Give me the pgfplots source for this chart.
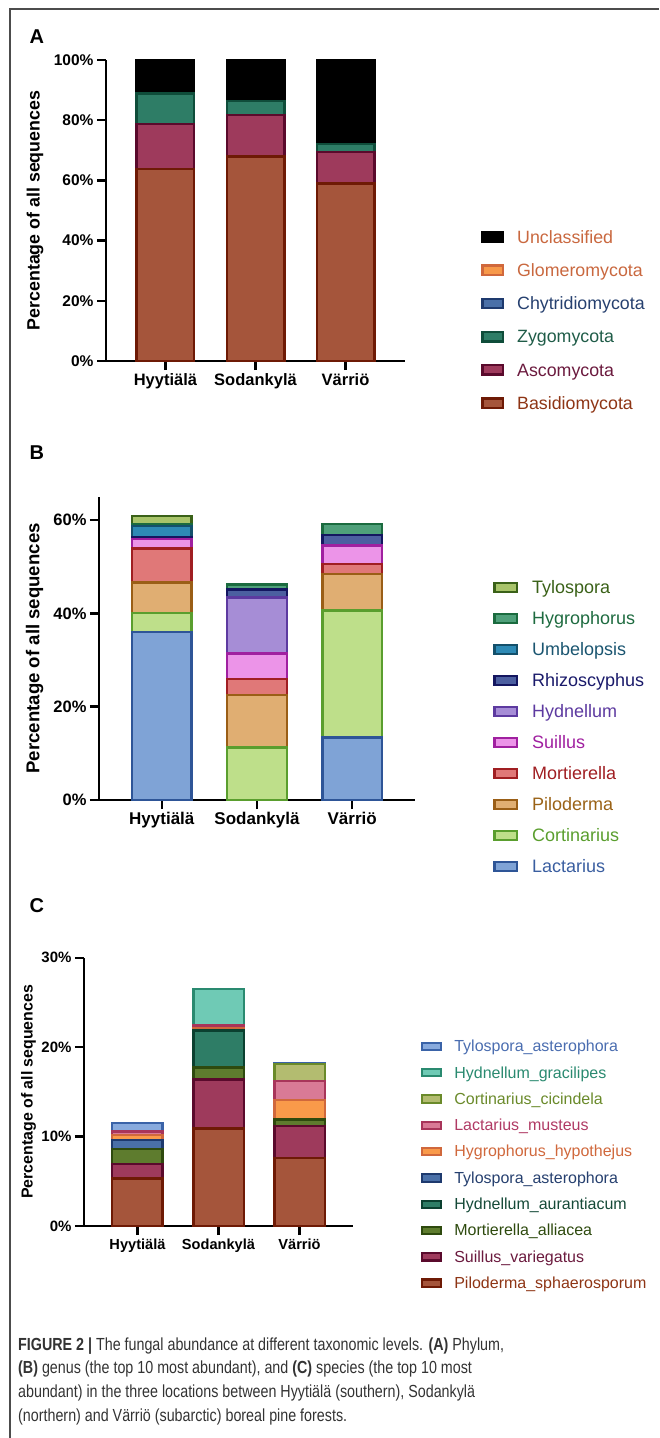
\documentclass[border=0pt]{standalone}
\usepackage{pgfplots}
\pgfplotsset{compat=1.18}
\usepackage{fontspec}
\setmainfont{Liberation Sans}
\newfontfamily\capfont[FakeStretch=0.817]{Liberation Sans}

% Panel A
\definecolor{basF}{HTML}{A5553B}\definecolor{basD}{HTML}{6E1A05}\definecolor{basT}{HTML}{8E3515}
\definecolor{ascF}{HTML}{9E3A5C}\definecolor{ascD}{HTML}{5A0A2C}\definecolor{ascT}{HTML}{6B1A3E}
\definecolor{zygF}{HTML}{2E7D66}\definecolor{zygD}{HTML}{0F4D3A}\definecolor{zygT}{HTML}{1F5C48}
\definecolor{chyF}{HTML}{4A70A8}\definecolor{chyD}{HTML}{1E3A6E}\definecolor{chyT}{HTML}{26406F}
\definecolor{gloF}{HTML}{F7994A}\definecolor{gloD}{HTML}{D0683C}\definecolor{gloT}{HTML}{C9683F}
% Panel B
\definecolor{lacF}{HTML}{7FA3D6}\definecolor{lacD}{HTML}{2E5597}\definecolor{lacT}{HTML}{3A5EA0}
\definecolor{corF}{HTML}{BEDF8A}\definecolor{corD}{HTML}{5A9E2E}\definecolor{corT}{HTML}{5A9E2E}
\definecolor{pilF}{HTML}{E0AE72}\definecolor{pilD}{HTML}{9A5E16}\definecolor{pilT}{HTML}{9A6216}
\definecolor{morF}{HTML}{E07878}\definecolor{morD}{HTML}{A01E22}\definecolor{morT}{HTML}{A01E22}
\definecolor{suiF}{HTML}{EC94E8}\definecolor{suiD}{HTML}{A020A0}\definecolor{suiT}{HTML}{A020A0}
\definecolor{hydF}{HTML}{A68DD6}\definecolor{hydD}{HTML}{5D3AA0}\definecolor{hydT}{HTML}{5D3AA0}
\definecolor{rhiF}{HTML}{4C5FA0}\definecolor{rhiD}{HTML}{141660}\definecolor{rhiT}{HTML}{1A1A6A}
\definecolor{umbF}{HTML}{2E8AB5}\definecolor{umbD}{HTML}{14506B}\definecolor{umbT}{HTML}{1A5570}
\definecolor{hygF}{HTML}{4FA07A}\definecolor{hygD}{HTML}{1B6B3F}\definecolor{hygT}{HTML}{1E6B40}
\definecolor{tylF}{HTML}{A8C46A}\definecolor{tylD}{HTML}{3A6118}\definecolor{tylT}{HTML}{3A6118}
% Panel C
\definecolor{maF}{HTML}{5E7C2E}\definecolor{maD}{HTML}{2E4A0E}\definecolor{maT}{HTML}{2E4A0E}
\definecolor{haF}{HTML}{2E7D66}\definecolor{haD}{HTML}{0B4030}\definecolor{haT}{HTML}{154A38}
\definecolor{hhF}{HTML}{F99A4A}\definecolor{hhD}{HTML}{D0683C}\definecolor{hhT}{HTML}{D0683C}
\definecolor{lmF}{HTML}{D97A96}\definecolor{lmD}{HTML}{A8355A}\definecolor{lmT}{HTML}{B03A64}
\definecolor{ccF}{HTML}{B3BC70}\definecolor{ccD}{HTML}{6A8A2A}\definecolor{ccT}{HTML}{6A8A2A}
\definecolor{hgF}{HTML}{6FCAB5}\definecolor{hgD}{HTML}{2A8A70}\definecolor{hgT}{HTML}{2A8A70}
\definecolor{tlF}{HTML}{88AADD}\definecolor{tlD}{HTML}{3A63A8}\definecolor{tlT}{HTML}{4A6DB0}
\definecolor{capC}{HTML}{333333}

\pgfplotsset{
  panel/.style={scale only axis, axis x line=bottom, axis y line=left,
    axis line style={-, line width=2.4pt, black}, tick style={line width=2.4pt, black},
    major tick length=9pt, tick align=outside,
    xtick={0,1,2}, xticklabels={Hyytiälä,Sodankylä,Värriö},
    xmin=-0.66, xmax=2.66, ymin=0, clip=false,
    legend cell align=left,
    legend image code/.code={\draw[##1, line width=2.4pt] (1.2pt,-3pt) rectangle (21.8pt,6.3pt);},
    legend style={draw=none, fill=none, inner sep=0pt, anchor=north west,
      nodes={inner sep=0pt, text height=13pt, text depth=4pt}},
  },
  seg/.style 2 args={ybar, bar shift=0pt, fill=#1, draw=#2, line width=2.5pt},
}

\begin{document}
\begin{tikzpicture}
\path[use as bounding box] (0pt,0pt) rectangle (659pt,-1438pt);
\draw[line width=1.5pt, black!70] (10pt,-1438pt) -- (10pt,-9pt) -- (659pt,-9pt);

\node[anchor=base west, font=\bfseries\fontsize{20}{20}\selectfont] at (26pt,-43pt) {A};
\node[anchor=base west, font=\bfseries\fontsize{20}{20}\selectfont] at (26pt,-459pt) {B};
\node[anchor=base west, font=\bfseries\fontsize{20}{20}\selectfont] at (26pt,-912pt) {C};

% ---------------- Panel A ----------------
\begin{axis}[panel, at={(106pt,-361pt)}, anchor=south west,
  width=299pt, height=301pt, ymax=100, bar width=57.5pt,
  ytick={0,20,40,60,80,100}, yticklabels={0\%,20\%,40\%,60\%,80\%,100\%},
  xticklabel style={font=\bfseries\fontsize{16.5}{18}\selectfont},
  yticklabel style={font=\bfseries\fontsize{15.5}{18}\selectfont},
  ylabel={Percentage of all sequences},
  ylabel style={font=\bfseries\fontsize{17.8}{20}\selectfont, at={(axis description cs:-0.2375,0.5)}, anchor=center},
  legend style={at={(axis description cs:1.254,0.435)}, row sep=16.2pt,
    font=\fontsize{17.8}{20}\selectfont,
    /tikz/every odd column/.append style={column sep=13pt}},
]
\addplot[seg={black}{black}] coordinates {(0,100) (1,100) (2,100)};
\addlegendentry{\textcolor{gloT}{Unclassified}}
\addplot[seg={gloF}{gloD}] coordinates {(0,88.9)};
\addlegendentry{\textcolor{gloT}{Glomeromycota}}
\addplot[seg={chyF}{chyD}] coordinates {(0,88.9)};
\addlegendentry{\textcolor{chyT}{Chytridiomycota}}
\addplot[seg={zygF}{zygD}] coordinates {(0,88.9) (1,86.3) (2,72.1)};
\addlegendentry{\textcolor{zygT}{Zygomycota}}
\addplot[seg={ascF}{ascD}] coordinates {(0,78.7) (1,81.7) (2,69.5)};
\addlegendentry{\textcolor{ascT}{Ascomycota}}
\addplot[seg={basF}{basD}] coordinates {(0,63.8) (1,67.9) (2,58.9)};
\addlegendentry{\textcolor{basT}{Basidiomycota}}
\end{axis}

% ---------------- Panel B ----------------
\begin{axis}[panel, at={(99pt,-800pt)}, anchor=south west,
  width=316pt, height=303.3pt, ymax=65, bar width=59.5pt,
  ytick={0,20,40,60}, yticklabels={0\%,20\%,40\%,60\%},
  xticklabel style={font=\bfseries\fontsize{17}{18}\selectfont},
  yticklabel style={font=\bfseries\fontsize{16.5}{18}\selectfont},
  ylabel={Percentage of all sequences},
  ylabel style={font=\bfseries\fontsize{18.6}{20}\selectfont, at={(axis description cs:-0.204,0.5)}, anchor=center},
  legend style={at={(axis description cs:1.2468,0.7237)}, row sep=14pt,
    font=\fontsize{18}{20}\selectfont,
    /tikz/every odd column/.append style={column sep=14pt}},
  legend image code/.code={\draw[#1, line width=2.4pt] (1.2pt,-3pt) rectangle (23.8pt,6.3pt);},
]
\addplot[seg={tylF}{tylD}] coordinates {(0,60.9)};
\addlegendentry{\textcolor{tylT}{Tylospora}}
\addplot[seg={hygF}{hygD}] coordinates {(0,59.2) (1,46.2) (2,59.2)};
\addlegendentry{\textcolor{hygT}{Hygrophorus}}
\addplot[seg={umbF}{umbD}] coordinates {(0,58.7)};
\addlegendentry{\textcolor{umbT}{Umbelopsis}}
\addplot[seg={rhiF}{rhiD}] coordinates {(0,56.3) (1,45.1) (2,56.8)};
\addlegendentry{\textcolor{rhiT}{Rhizoscyphus}}
\addplot[seg={hydF}{hydD}] coordinates {(1,43.4)};
\addlegendentry{\textcolor{hydT}{Hydnellum}}
\addplot[seg={suiF}{suiD}] coordinates {(0,55.9) (1,31.4) (2,54.5)};
\addlegendentry{\textcolor{suiT}{Suillus}}
\addplot[seg={morF}{morD}] coordinates {(0,53.9) (1,25.9) (2,50.6)};
\addlegendentry{\textcolor{morT}{Mortierella}}
\addplot[seg={pilF}{pilD}] coordinates {(0,46.6) (1,22.5) (2,48.4)};
\addlegendentry{\textcolor{pilT}{Piloderma}}
\addplot[seg={corF}{corD}] coordinates {(0,40.1) (1,11.3) (2,40.6)};
\addlegendentry{\textcolor{corT}{Cortinarius}}
\addplot[seg={lacF}{lacD}] coordinates {(0,36.0) (2,13.4)};
\addlegendentry{\textcolor{lacT}{Lactarius}}
\end{axis}

% ---------------- Panel C ----------------
\begin{axis}[panel, at={(84pt,-1226pt)}, anchor=south west,
  width=269pt, height=268.3pt, ymax=30, bar width=50.5pt,
  ytick={0,10,20,30}, yticklabels={0\%,10\%,20\%,30\%},
  xticklabel style={font=\bfseries\fontsize{14.6}{16}\selectfont},
  yticklabel style={font=\bfseries\fontsize{15}{16}\selectfont},
  ylabel={Percentage of all sequences},
  ylabel style={font=\bfseries\fontsize{15.9}{18}\selectfont, at={(axis description cs:-0.206,0.5)}, anchor=center},
  legend style={at={(axis description cs:1.2528,0.693)}, row sep=11.3pt,
    font=\fontsize{16}{18}\selectfont,
    nodes={inner sep=0pt, text height=11.5pt, text depth=3.5pt},
    /tikz/every odd column/.append style={column sep=12pt}},
  legend image code/.code={\draw[#1, line width=2.1pt] (1pt,-2.3pt) rectangle (20pt,5pt);},
]
\addplot[seg={tlF}{tlD}] coordinates {(0,11.5) (2,18.25)};
\addlegendentry{\textcolor{tlT}{Tylospora\_asterophora}}
\addplot[seg={hgF}{hgD}] coordinates {(1,26.5)};
\addlegendentry{\textcolor{hgT}{Hydnellum\_gracilipes}}
\addplot[seg={ccF}{ccD}] coordinates {(2,18.1)};
\addlegendentry{\textcolor{ccT}{Cortinarius\_cicindela}}
\addplot[seg={lmF}{lmD}] coordinates {(0,10.55) (1,22.4) (2,16.2)};
\addlegendentry{\textcolor{lmT}{Lactarius\_musteus}}
\addplot[seg={hhF}{hhD}] coordinates {(0,10.2) (1,22.15) (2,14.1)};
\addlegendentry{\textcolor{hhT}{Hygrophorus\_hypothejus}}
\addplot[seg={chyF}{chyD}] coordinates {(0,9.6)};
\addlegendentry{\textcolor{chyT}{Tylospora\_asterophora}}
\addplot[seg={haF}{haD}] coordinates {(1,21.85)};
\addlegendentry{\textcolor{haT}{Hydnellum\_aurantiacum}}
\addplot[seg={maF}{maD}] coordinates {(0,8.6) (1,17.75) (2,11.9)};
\addlegendentry{\textcolor{maT}{Mortierella\_alliacea}}
\addplot[seg={ascF}{ascD}] coordinates {(0,6.95) (1,16.4) (2,11.2)};
\addlegendentry{\textcolor{ascT}{Suillus\_variegatus}}
\addplot[seg={basF}{basD}] coordinates {(0,5.3) (1,10.9) (2,7.6)};
\addlegendentry{\textcolor{basT}{Piloderma\_sphaerosporum}}
\end{axis}

% ---------------- Caption ----------------
\begin{scope}[every node/.style={anchor=base west, inner sep=0pt, text=capC, font=\capfont\fontsize{17.5}{20}\selectfont}]
\node at (18pt,-1350pt) {\textbf{FIGURE 2 |} The fungal abundance at different taxonomic levels. \textbf{(A)} Phylum,};
\node at (18pt,-1373.5pt) {\textbf{(B)} genus (the top 10 most abundant), and \textbf{(C)} species (the top 10 most};
\node at (18pt,-1397pt) {abundant) in the three locations between Hyytiälä (southern), Sodankylä};
\node at (18pt,-1421.5pt) {(northern) and Värriö (subarctic) boreal pine forests.};
\end{scope}
\end{tikzpicture}
\end{document}
